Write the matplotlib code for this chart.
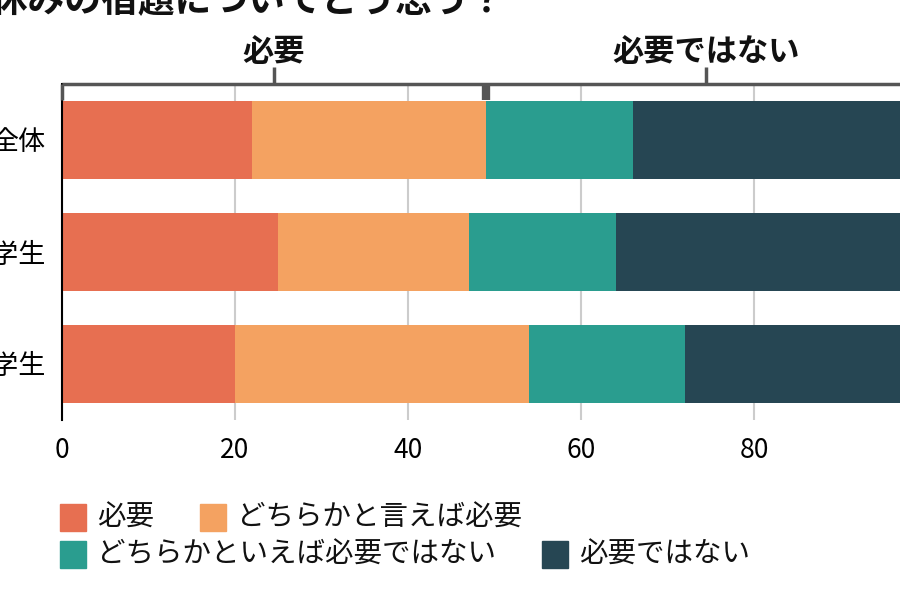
import matplotlib.pyplot as plt
from matplotlib.patches import Rectangle
from matplotlib.transforms import blended_transform_factory
import numpy as np

plt.rcParams['font.family'] = ['Noto Sans CJK JP', 'DejaVu Sans']

# --- data ---
title = '夏休みの宿題についてどう思う？'
groups = ['全体', '小学生', '中学生']
answers = ['必要', 'どちらかと言えば必要', 'どちらかといえば必要ではない', '必要ではない']
colors = ['#E76F51', '#F4A261', '#2A9D8F', '#264653']
hitsuyou = [22, 25, 20]
dochira_hitsuyou = [27, 22, 34]
dochira_fuyou = [17, 17, 18]
fuyou = [34, 36, 28]
brackets = ['必要', '必要ではない']
xticks = [0, 20, 40, 60, 80, 100]

W, H = 900, 603


def fx(px):
    return px / W


def fy(py):
    return 1 - py / H


fig = plt.figure(figsize=(W / 100, H / 100), dpi=100)
ax = fig.add_axes([fx(62), fy(420), 865 / W, 336 / H])

y = np.arange(len(groups))
left = np.zeros(len(groups))
for name, vals, c in zip(answers, [hitsuyou, dochira_hitsuyou, dochira_fuyou, fuyou], colors):
    ax.barh(y, vals, left=left, height=0.7, color=c, label=name, zorder=2)
    left += np.array(vals)

ax.set_xlim(0, 100)
ax.set_ylim(2.5, -0.5)
ax.set_xticks(xticks)
ax.set_yticks(y)
ax.set_yticklabels(groups)
ax.grid(axis='x', color='#cccccc', lw=1.5)
ax.set_axisbelow(True)
for s in ['top', 'right', 'bottom']:
    ax.spines[s].set_visible(False)
ax.spines['left'].set_color('black')
ax.spines['left'].set_linewidth(1.5)
ax.tick_params(axis='x', length=0, labelsize=19, pad=12)
ax.tick_params(axis='y', length=0, labelsize=19.5, pad=12)

# bracket above the bars: 必要 / 必要ではない split at 全体
trans = blended_transform_factory(ax.transData, ax.transAxes)
split = hitsuyou[0] + dochira_hitsuyou[0]
gray = '#555555'
ax.plot([0, 100], [1, 1], transform=trans, color=gray, lw=2.5,
        clip_on=False, solid_capstyle='butt', zorder=5)
ax.plot([0, 0], [1, 0.952], transform=trans, color=gray, lw=2.5,
        clip_on=False, solid_capstyle='butt', zorder=5)
ax.plot([split, split], [1, 0.952], transform=trans, color=gray, lw=6,
        clip_on=False, solid_capstyle='butt', zorder=5)
for lab, (a, b) in zip(brackets, [(0, split), (split, 100)]):
    c = (a + b) / 2
    ax.plot([c, c], [1, 1.05], transform=trans, color=gray, lw=2.5,
            clip_on=False, solid_capstyle='butt', zorder=5)
    ax.text(c, 1.095, lab, transform=trans, ha='center', va='center',
            fontsize=22.5, fontweight='bold', color='#111111')

# title (cropped at the top of the picture)
fig.text(fx(-46), fy(12), title, ha='left', va='baseline',
         fontsize=26.5, fontweight='bold', color='#111111')

# legend laid out in two rows
legend_pos = [(60, 518), (200, 518), (60, 555), (542, 555)]
for name, c, (lx, ly) in zip(answers, colors, legend_pos):
    fig.add_artist(Rectangle((fx(lx), fy(ly + 13)), 26 / W, 27 / H,
                             transform=fig.transFigure, color=c))
    fig.text(fx(lx + 37), fy(ly), name, ha='left', va='center',
             fontsize=20.5, color='#111111')

fig.savefig('out.png', dpi=100)
